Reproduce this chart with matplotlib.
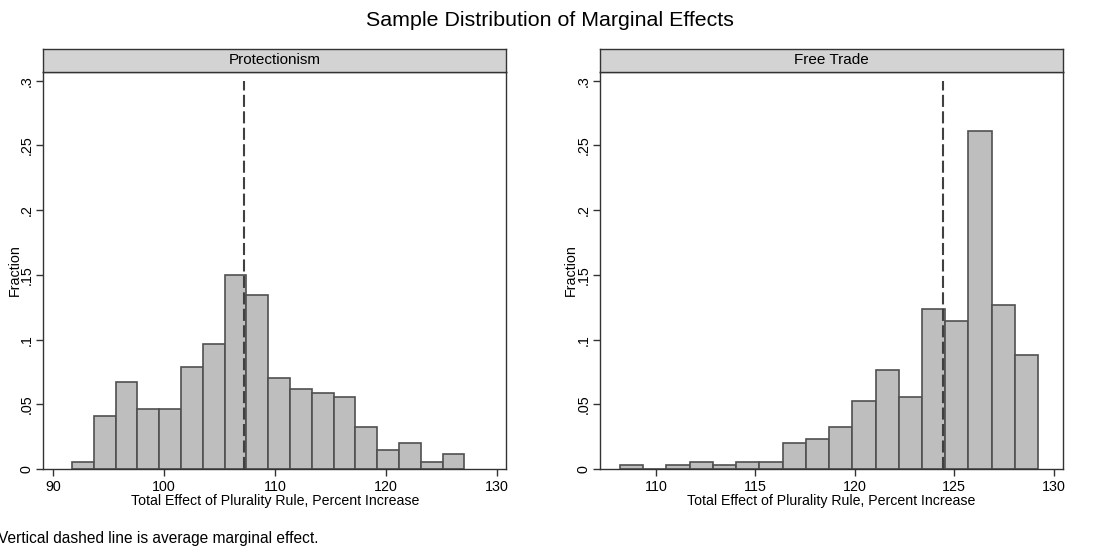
import numpy as np
import matplotlib
matplotlib.use("Agg")
import matplotlib.pyplot as plt

plt.rcParams['font.family'] = ['Liberation Sans', 'DejaVu Sans']

# histogram data (fraction per bin)
prot_start = 91.68
prot_width = 1.966
prot_frac = [0.0057, 0.041, 0.0675, 0.0466, 0.0466, 0.079, 0.0969, 0.150, 0.1348,
             0.0704, 0.0616, 0.0585, 0.0557, 0.0322, 0.0144, 0.0204, 0.0057, 0.0116]
prot_mean = 107.2

free_start = 108.18
free_width = 1.169
free_frac = [0.0028, 0.0, 0.0028, 0.0057, 0.0028, 0.0057, 0.0057, 0.0204, 0.0235,
             0.0322, 0.0528, 0.0763, 0.0557, 0.1235, 0.1144, 0.2614, 0.1265, 0.0879]
free_mean = 124.42

yticks = [0, 0.05, 0.1, 0.15, 0.2, 0.25, 0.3]
ytick_labels = ['0', '.05', '.1', '.15', '.2', '.25', '.3']

panels = [
    ('Protectionism', prot_start, prot_width, prot_frac, prot_mean,
     [90, 100, 110, 120, 130], (89.1, 130.85)),
    ('Free Trade', free_start, free_width, free_frac, free_mean,
     [110, 115, 120, 125, 130], (107.18, 130.47)),
]

W, H = 1099, 548
fig = plt.figure(figsize=(W / 100, H / 100), dpi=100)

bar_fc = '#bebebe'
bar_ec = '#505050'
lefts = [43.3, 600]
ax_w = 463
ax_top, ax_bot = 71.7, 469
strip_top = 49.3

for (name, start, width, frac, mean, xt, xlim), lx in zip(panels, lefts):
    ax = fig.add_axes([lx / W, 1 - ax_bot / H, ax_w / W, (ax_bot - ax_top) / H])
    edges = start + width * np.arange(len(frac))
    ax.bar(edges, frac, width=width, align='edge', color=bar_fc,
           edgecolor=bar_ec, linewidth=1.2)
    # average marginal effect
    ax.plot([mean, mean], [0, 0.3], color='#404040', linewidth=1.5,
            dashes=(5.8, 2.1))
    ax.set_xlim(*xlim)
    ax.set_ylim(0, 0.307)
    ax.set_xticks(xt)
    ax.set_xticklabels([str(v) for v in xt], fontsize=10.3)
    ax.set_yticks(yticks)
    ax.set_yticklabels(ytick_labels, fontsize=10.3, rotation=90, va='center')
    ax.tick_params(axis='x', direction='out', length=5, width=1,
                   color='#333333', pad=3)
    ax.tick_params(axis='y', direction='out', length=5, width=1,
                   color='#333333', pad=2)
    ax.set_xlabel('Total Effect of Plurality Rule, Percent Increase',
                  fontsize=10.2, labelpad=0)
    ax.set_ylabel('Fraction', fontsize=10.3)
    ax.yaxis.set_label_coords(-0.047, 0.5)
    for s in ax.spines.values():
        s.set_color('#333333')
        s.set_linewidth(1.0)

    # panel title strip
    sx = fig.add_axes([lx / W, 1 - ax_top / H, ax_w / W, (ax_top - strip_top) / H])
    sx.set_facecolor('#d3d3d3')
    sx.set_xticks([])
    sx.set_yticks([])
    for s in sx.spines.values():
        s.set_color('#333333')
        s.set_linewidth(1.0)
    sx.text(0.5, 0.5, name, ha='center', va='center', fontsize=11,
            transform=sx.transAxes)

fig.text(0.5, 1 - 20.5 / H, 'Sample Distribution of Marginal Effects',
         ha='center', va='center', fontsize=15.4)
fig.text(-0.002, 1 - 539 / H, 'Vertical dashed line is average marginal effect.',
         ha='left', va='center', fontsize=11.2)

fig.savefig('out.png', dpi=100)
